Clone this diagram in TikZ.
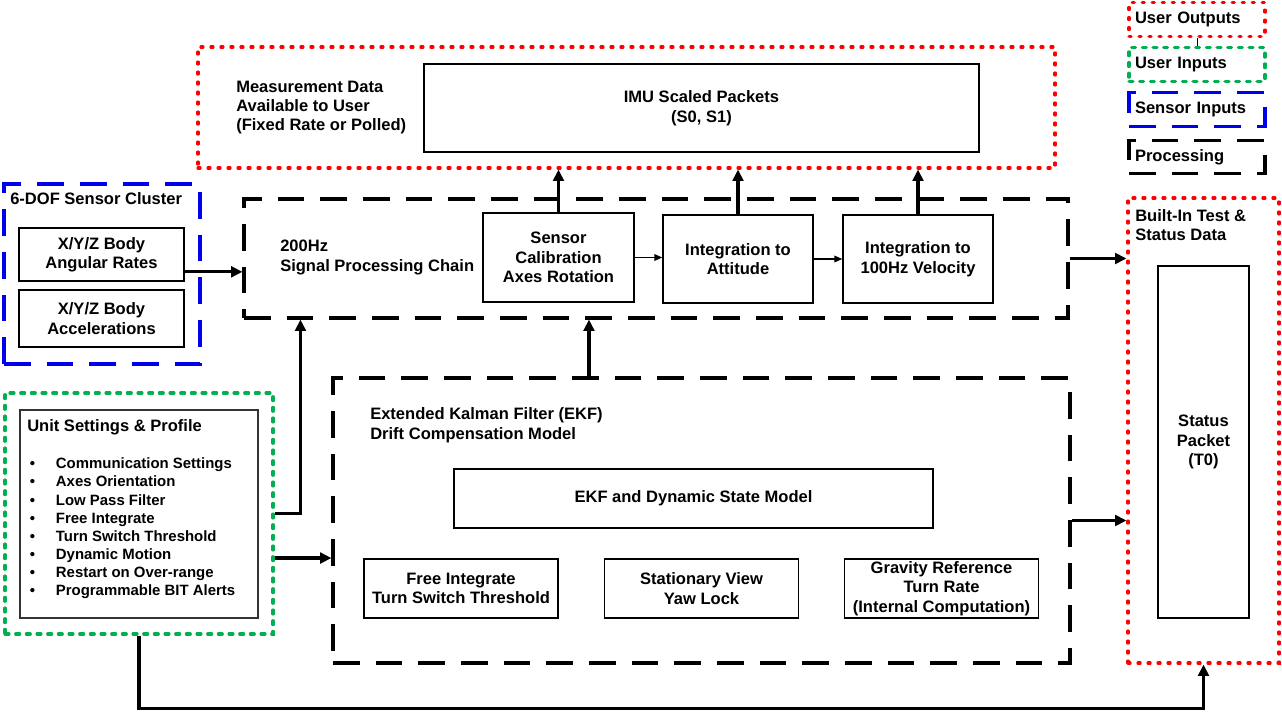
\documentclass[tikz,border=0pt]{standalone}
\usepackage{fontspec}
\setmainfont{Liberation Sans}
\usetikzlibrary{arrows.meta}
\definecolor{color1}{RGB}{255, 0, 0}
\definecolor{color2}{RGB}{0, 176, 80}
\definecolor{color3}{RGB}{0, 0, 235}

\begin{document}
\begin{tikzpicture}[x=0.75pt, y=-0.75pt,
	font=\bfseries\fontsize{12.4}{14.6}\selectfont,
	outbox/.style={draw=color1, line width=2.3pt, line cap=round, dash pattern=on 1.6pt off 5.9pt, inner sep=0pt},
	inbox/.style={draw=color2, line width=2.3pt, line cap=round, dash pattern=on 3pt off 5pt, inner sep=0pt},
	sensbox/.style={draw=color3, line width=2.3pt, dash pattern=on 20pt off 12pt, inner sep=0pt},
	procbox/.style={draw, line width=2.3pt, dash pattern=on 20pt off 12pt, inner sep=0pt},
	block/.style={draw, line width=1.05pt, align=center, inner sep=0pt},
	txt/.style={align=left, anchor=west, inner sep=0pt},
	legend/.style={minimum width=102pt, minimum height=25pt, text width=93pt, align=left, inner xsep=4.5pt},
	flow/.style={line width=2.4pt, -{Triangle[length=8.5pt, width=8pt]}},
	thinflow/.style={line width=1.1pt, -{Triangle[length=6pt, width=5pt]}}]
	\useasboundingbox (0,0) rectangle (1282,724);
	% legend
	\node[outbox, legend] (lout) at (1197,19.5) {User Outputs};
	\node[inbox, legend] (lin) at (1197,64.5) {User Inputs};
	\node[sensbox, legend] (lsens) at (1197,109.5) {Sensor Inputs};
	\node[procbox, legend] (lproc) at (1197,157) {Processing};
	\draw[line width=0.5pt] (lout.south) -- (lin.north);
	% measurement output
	\node[outbox, minimum width=642.75pt, minimum height=90.75pt] (meas) at (626.5,107.5) {};
	\node[block, minimum width=416.25pt, minimum height=66pt] (imu) at (701.5,108) {IMU Scaled Packets\\(S0, S1)};
	\node[txt] (meastxt) at (236,107.5) {Measurement Data\\Available to User\\(Fixed Rate or Polled)};
	% sensors
	\node[sensbox, minimum width=147pt, minimum height=135pt] (sens) at (102,274) {};
	\node[txt] (senstxt) at (10,199) {6-DOF Sensor Cluster};
	\node[block, minimum width=123.75pt, minimum height=39.75pt] (rates) at (101.5,254.5) {X/Y/Z Body\\Angular Rates};
	\node[block, minimum width=123.75pt, minimum height=42.75pt] (accel) at (101.5,318.5) {X/Y/Z Body\\Accelerations};
	% signal processing chain
	\node[procbox, minimum width=618pt, minimum height=89.25pt] (sig) at (656,258.5) {};
	\node[txt] (sigtxt) at (280,257.5) {200Hz\\Signal Processing Chain};
	\node[block, minimum width=113.25pt, minimum height=66.75pt] (calib) at (558.5,257.5) {Sensor\\Calibration\\Axes Rotation};
	\node[block, minimum width=112.5pt, minimum height=66pt] (att) at (738,259) {Integration to\\Attitude};
	\node[block, minimum width=112.5pt, minimum height=66pt] (vel) at (918,259) {Integration to\\100Hz Velocity};
	% status
	\node[outbox, minimum width=113.25pt, minimum height=348.75pt] (status) at (1203.5,430.5) {};
	\node[txt] (stattxt) at (1135,225) {Built-In Test \&\\Status Data};
	\node[block, minimum width=68.25pt, minimum height=264pt] (packet) at (1203.5,442) {Status\\Packet\\(T0)};
	% EKF
	\node[procbox, minimum width=552.75pt, minimum height=213.75pt] (ekf) at (701.5,520.5) {};
	\node[txt] (ekftxt) at (370,425) {Extended Kalman Filter (EKF)\\Drift Compensation Model};
	\node[block, minimum width=359.25pt, minimum height=44.25pt] (dyn) at (693.5,498.5) {EKF and Dynamic State Model};
	\node[block, minimum width=145.5pt, minimum height=44.25pt] (free) at (461,588.5) {Free Integrate\\Turn Switch Threshold};
	\node[block, minimum width=145.5pt, minimum height=44.25pt] (stat) at (701.5,588.5) {Stationary View\\Yaw Lock};
	\node[block, minimum width=145.5pt, minimum height=44.25pt] (grav) at (941.5,588.5) {Gravity Reference\\Turn Rate\\(Internal Computation)};
	% unit settings
	\node[inbox, minimum width=201pt, minimum height=180.75pt] (user) at (139,513.5) {};
	\node[block, draw=black!80, minimum width=178.5pt, minimum height=156pt] (set) at (139,514) {};
	\node[txt, anchor=north west, font=\bfseries\fontsize{11.2}{13.6}\selectfont] (settxt) at (27,419.5) {{\fontsize{12.4}{13.6}\selectfont Unit Settings \& Profile}\\[14.15pt]
		\makebox[21.5pt][l]{\,\textbullet}Communication Settings\\
		\makebox[21.5pt][l]{\,\textbullet}Axes Orientation\\
		\makebox[21.5pt][l]{\,\textbullet}Low Pass Filter\\
		\makebox[21.5pt][l]{\,\textbullet}Free Integrate\\
		\makebox[21.5pt][l]{\,\textbullet}Turn Switch Threshold\\
		\makebox[21.5pt][l]{\,\textbullet}Dynamic Motion\\
		\makebox[21.5pt][l]{\,\textbullet}Restart on Over-range\\
		\makebox[21.5pt][l]{\,\textbullet}Programmable BIT Alerts};
	% connectors
	\draw[flow] ([yshift=-13pt]rates.east) coordinate (r1) -- (r1 -| sig.west);
	\draw[flow] (calib.north) -- (calib.north |- meas.south);
	\draw[flow] (att.north) -- (att.north |- meas.south);
	\draw[flow] (vel.north) -- (vel.north |- meas.south);
	\draw[thinflow] (calib.east) -- (calib.east -| att.west);
	\draw[thinflow] (att.east) -- (att.east -| vel.west);
	\draw[flow] ([xshift=-84.4pt]ekf.north) coordinate (e1) -- (e1 |- sig.south);
	\draw[flow] (sig.east) -- (sig.east -| status.west);
	\draw[flow] (ekf.east) -- (ekf.east -| status.west);
	\draw[flow] (user.east) -| ([xshift=43.5pt]sig.south west);
	\draw[flow] ([yshift=-33.4pt]user.east) coordinate (u1) -- (u1 -| ekf.west);
	\draw[flow] (user.south) -- ++(0,73) -| (status.south);
\end{tikzpicture}
\end{document}
